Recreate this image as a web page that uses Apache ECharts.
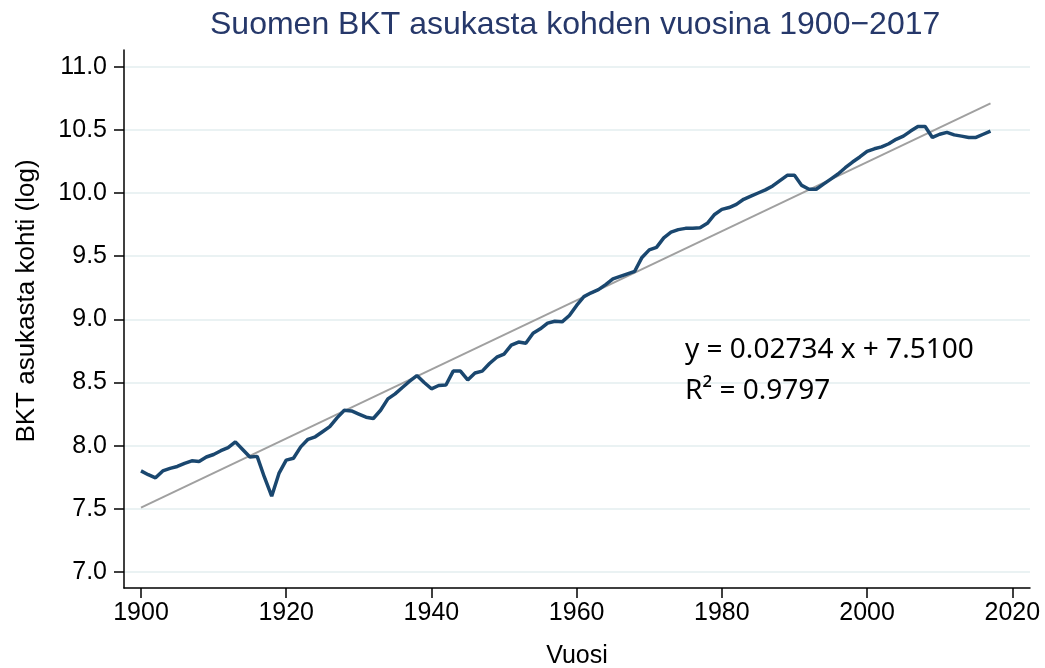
<!DOCTYPE html>
<html>
<head>
<meta charset="utf-8">
<script src="https://cdn.jsdelivr.net/npm/echarts@6/dist/echarts.min.js"></script>
<style>
  html, body { margin: 0; padding: 0; background: #fff; }
  #chart { width: 1045px; height: 668px; }
</style>
</head>
<body>
<div id="chart"></div>
<script>
// vuodet 1900-2017
const years = []
for (let y = 1900; y <= 2017; y++) years.push(y)

// log BKT asukasta kohti, luettu kuvasta
const gdpLog = [
  7.80, 7.77, 7.745, 7.80, 7.82, 7.835, 7.86, 7.88, 7.875, 7.91,
  7.93, 7.96, 7.985, 8.03, 7.97, 7.91, 7.915, 7.75, 7.60, 7.78,
  7.885, 7.90, 7.99, 8.05, 8.07, 8.11, 8.15, 8.22, 8.28, 8.275,
  8.25, 8.225, 8.215, 8.28, 8.37, 8.41, 8.46, 8.51, 8.555, 8.50,
  8.45, 8.476, 8.48, 8.59, 8.59, 8.52, 8.575, 8.59, 8.65, 8.70,
  8.725, 8.795, 8.82, 8.81, 8.89, 8.925, 8.97, 8.985, 8.98, 9.03,
  9.11, 9.18, 9.21, 9.235, 9.275, 9.32, 9.34, 9.36, 9.38, 9.49,
  9.55, 9.57, 9.645, 9.69, 9.71, 9.72, 9.72, 9.725, 9.76, 9.83,
  9.87, 9.885, 9.91, 9.95, 9.975, 10.0, 10.025, 10.056, 10.098, 10.14,
  10.14, 10.06, 10.03, 10.03, 10.07, 10.11, 10.15, 10.2, 10.245, 10.285,
  10.33, 10.35, 10.365, 10.39, 10.425, 10.45, 10.49, 10.526, 10.526, 10.44,
  10.465, 10.48, 10.46, 10.45, 10.44, 10.44, 10.465, 10.49
]

// regressiosuora (kuvan yhtälöstä), x = vuosi - 1900
const slope = 0.02734
const intercept = 7.5100
const trendYears = [1900, 2017]
const trendValues = trendYears.map(y => intercept + slope * (y - 1900))

const yTicks = [7.0, 7.5, 8.0, 8.5, 9.0, 9.5, 10.0, 10.5, 11.0]
const xTicks = [1900, 1920, 1940, 1960, 1980, 2000, 2020]

const chart = echarts.init(document.getElementById('chart'))
chart.setOption({
  animation: false,
  title: {
    text: 'Suomen BKT asukasta kohden vuosina 1900\u22122017',
    left: 205,
    top: 4,
    textStyle: {
      color: '#26386a',
      fontFamily: 'Liberation Sans',
      fontSize: 32,
      fontWeight: 'normal'
    }
  },
  grid: { left: 124, right: 15, top: 50, bottom: 80, outerBoundsMode: 'none', containLabel: false },
  xAxis: {
    type: 'value',
    min: 1897.66,
    max: 2022.44,
    name: 'Vuosi',
    nameLocation: 'middle',
    nameGap: 56,
    nameTextStyle: { color: '#000', fontFamily: 'Liberation Sans', fontSize: 25 },
    axisLine: { show: true, lineStyle: { color: '#000', width: 1.5 } },
    axisTick: { show: true, length: 10, customValues: xTicks, lineStyle: { color: '#000', width: 1.5 } },
    axisLabel: {
      customValues: xTicks,
      margin: 13,
      color: '#000',
      fontFamily: 'Liberation Sans',
      fontSize: 25,
      formatter: v => String(v)
    },
    splitLine: { show: false }
  },
  yAxis: {
    type: 'value',
    min: 6.873,
    max: 11.132,
    name: 'BKT asukasta kohti (log)',
    nameLocation: 'middle',
    nameGap: 84,
    nameTextStyle: { color: '#000', fontFamily: 'Liberation Sans', fontSize: 26, padding: [0, 0, 0, 36] },
    axisLine: { show: true, lineStyle: { color: '#000', width: 1.5 } },
    axisTick: { show: true, length: 10, customValues: yTicks, lineStyle: { color: '#000', width: 1.5 } },
    axisLabel: {
      customValues: yTicks,
      margin: 17,
      color: '#000',
      fontFamily: 'Liberation Sans',
      fontSize: 25,
      formatter: v => v.toFixed(1)
    },
    splitLine: { show: true, lineStyle: { color: '#eaf2f3', width: 2 } }
  },
  graphic: [
    {
      type: 'text',
      left: 685,
      top: 336,
      z: 100,
      style: {
        text: 'y = 0.02734 x + 7.5100',
        fill: '#000',
        font: '28px "Noto Sans"'
      }
    },
    {
      type: 'text',
      left: 685,
      top: 377,
      z: 100,
      style: {
        text: 'R\u00b2 = 0.9797',
        fill: '#000',
        font: '28px "Noto Sans"'
      }
    }
  ],
  series: [
    {
      name: 'Trendi',
      type: 'line',
      showSymbol: false,
      silent: true,
      data: trendYears.map((y, i) => [y, trendValues[i]]),
      lineStyle: { color: '#a0a0a0', width: 2 },
      z: 2
    },
    {
      name: 'BKT',
      type: 'line',
      showSymbol: false,
      data: years.map((y, i) => [y, gdpLog[i]]),
      lineStyle: { color: '#1a476f', width: 3.5 },
      z: 3
    }
  ]
})
</script>
</body>
</html>
